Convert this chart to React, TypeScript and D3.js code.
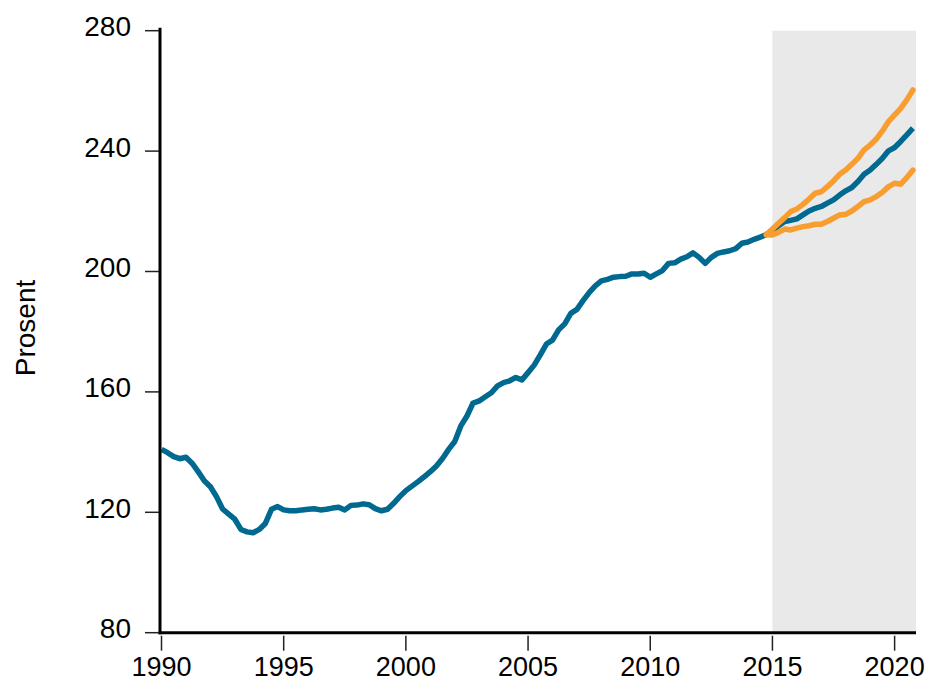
import React from "react";
import * as d3 from "d3";

// Quarterly data, 1990Q1 .. 2014Q4 (historical)
const histStart = 1990;
const historical = [
  140.9, 139.8, 138.5, 137.8, 138.3, 136.3, 133.5, 130.5,
  128.5, 125.2, 121.1, 119.4, 117.7, 114.3, 113.5, 113.2,
  114.3, 116.3, 121.0, 121.9, 120.8, 120.5, 120.5, 120.8,
  121.0, 121.2, 120.8, 121.0, 121.4, 121.7, 120.8, 122.3,
  122.4, 122.8, 122.5, 121.2, 120.5, 121.0, 123.0, 125.2,
  127.2, 128.7, 130.2, 131.8, 133.5, 135.4, 137.9, 140.9,
  143.5, 148.7, 152.0, 156.3, 157.0, 158.4, 159.7, 162.0,
  163.1, 163.7, 164.8, 164.0, 166.4, 168.9, 172.3, 175.9,
  177.2, 180.6, 182.6, 186.1, 187.4, 190.3, 193.0, 195.2,
  196.9, 197.4, 198.1, 198.3, 198.4, 199.2, 199.2, 199.4,
  198.1, 199.2, 200.3, 202.7, 202.9, 204.1, 204.9, 206.2,
  204.7, 202.7, 204.7, 206.0, 206.5, 206.9, 207.6, 209.4,
  209.8, 210.7, 211.4, 212.3,
];

// Projections, 2014Q4 .. 2020Q4
const projStart = 2014.75;
const central = [
  212.3, 213.5, 215.2, 216.6, 217.0, 217.5, 218.8, 220.1, 221.0,
  221.6, 222.7, 223.8, 225.4, 226.8, 227.9, 229.9, 232.3, 233.7,
  235.6, 237.6, 240.1, 241.2, 243.2, 245.4, 247.6,
];
const upper = [
  212.3, 214.1, 216.0, 217.9, 219.9, 220.8, 222.3, 224.1, 226.0,
  226.5, 228.2, 230.1, 232.3, 233.7, 235.6, 237.6, 240.4, 242.0,
  244.0, 246.7, 249.8, 252.0, 254.2, 257.0, 260.3,
];
const lower = [
  212.2, 212.1, 213.0, 214.1, 213.8, 214.4, 214.9, 215.2, 215.7,
  215.7, 216.6, 217.7, 218.8, 219.0, 220.1, 221.6, 223.2, 223.8,
  224.9, 226.3, 228.2, 229.3, 229.0, 231.2, 233.7,
];

const xTicks = [1990, 1995, 2000, 2005, 2010, 2015, 2020];
const yTicks = [80, 120, 160, 200, 240, 280];
const yLabel = "Prosent";
const shadeStart = 2015;

const W = 932;
const H = 682;
const BLUE = "#00698f";
const ORANGE = "#f89d30";
const FONT = "'Liberation Sans', Arial, Helvetica, sans-serif";

export default function App() {
  const x = d3.scaleLinear().domain([1990, 2020.875]).range([161.5, 916]);
  const y = d3.scaleLinear().domain([80, 280]).range([632.7, 30.7]);

  const toPts = (arr: number[], start: number) =>
    arr.map((v, i) => [start + i / 4, v] as [number, number]);

  const line = d3
    .line<[number, number]>()
    .x((d) => x(d[0]))
    .y((d) => y(d[1]))
    .curve(d3.curveLinear);

  const histPts = toPts(historical, histStart);
  const centralPts = toPts(central, projStart);
  const upperPts = toPts(upper, projStart);
  const lowerPts = toPts(lower, projStart);

  const [, x1] = x.range();
  const [yb, yt] = y.range();

  return (
    <svg
      width={W}
      height={H}
      style={{ position: "absolute", left: 0, top: 0, background: "#fff" }}
    >
      <rect
        x={x(shadeStart)}
        y={yt}
        width={x1 - x(shadeStart)}
        height={yb - yt}
        fill="#e9e9e9"
      />
      <path
        d={line(histPts) || ""}
        fill="none"
        stroke={BLUE}
        strokeWidth={5.5}
        strokeLinejoin="round"
      />
      <path
        d={line(centralPts) || ""}
        fill="none"
        stroke={BLUE}
        strokeWidth={5.5}
        strokeLinejoin="round"
      />
      <path
        d={line(upperPts) || ""}
        fill="none"
        stroke={ORANGE}
        strokeWidth={5.5}
        strokeLinejoin="round"
        strokeLinecap="round"
      />
      <path
        d={line(lowerPts) || ""}
        fill="none"
        stroke={ORANGE}
        strokeWidth={5.5}
        strokeLinejoin="round"
        strokeLinecap="round"
      />
      {/* axes */}
      <line x1={160} x2={160} y1={yt - 3} y2={yb + 1.5} stroke="#000" strokeWidth={3} />
      <line x1={158.5} x2={x1} y1={yb} y2={yb} stroke="#000" strokeWidth={3} />
      {yTicks.map((t) => (
        <g key={t}>
          <line x1={145} x2={159} y1={y(t)} y2={y(t)} stroke="#222" strokeWidth={1.5} />
          <text
            x={131}
            y={y(t) + 5.5}
            textAnchor="end"
            fontFamily={FONT}
            fontSize={28}
            fill="#000"
          >
            {t}
          </text>
        </g>
      ))}
      {xTicks.map((t) => (
        <g key={t}>
          <line x1={x(t)} x2={x(t)} y1={yb + 3} y2={yb + 18} stroke="#222" strokeWidth={1.5} />
          <text
            x={x(t)}
            y={yb + 43}
            textAnchor="middle"
            fontFamily={FONT}
            fontSize={27}
            fill="#000"
          >
            {t}
          </text>
        </g>
      ))}
      <text
        transform={`translate(35,328) rotate(-90)`}
        textAnchor="middle"
        fontFamily={FONT}
        fontSize={28}
        fill="#000"
      >
        {yLabel}
      </text>
    </svg>
  );
}
